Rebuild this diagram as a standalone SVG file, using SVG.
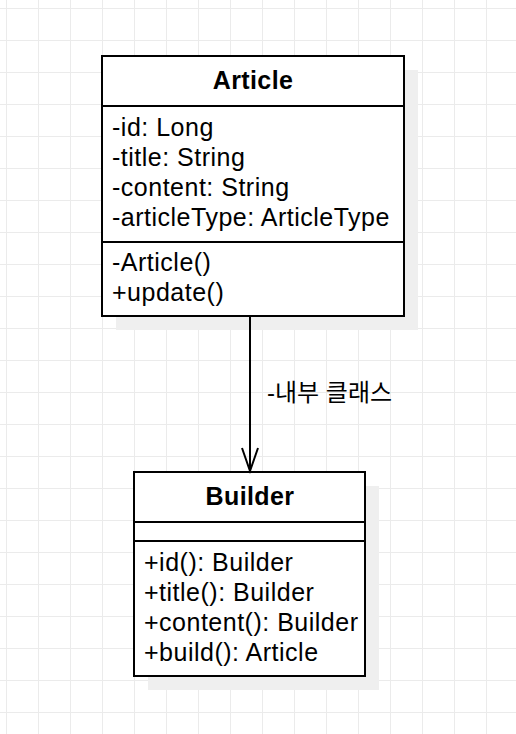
<svg xmlns="http://www.w3.org/2000/svg" width="516" height="734" viewBox="0 0 516 734">
  <defs>
    <pattern id="grid" x="6" y="8" width="32" height="32" patternUnits="userSpaceOnUse">
      <path d="M0.5 0 V32 M0 0.5 H32" fill="none" stroke="#ebebeb" stroke-width="1"/>
    </pattern>
  </defs>
  <style>
    .box { fill: #ffffff; stroke: #000000; stroke-width: 2; }
    .shadow { fill: #efefef; }
    .sep { stroke: #000000; stroke-width: 2; }
    .title { font-family: "Liberation Sans", Arial, sans-serif; font-size: 25px; font-weight: bold; text-anchor: middle; fill: #000; letter-spacing: 0.4px; }
    .member { font-family: "Liberation Sans", Arial, sans-serif; font-size: 25px; fill: #000; letter-spacing: 0.5px; }
    .label { font-family: "Liberation Sans", "Noto Sans CJK KR", sans-serif; font-size: 24px; fill: #000; }
    .conn { stroke: #000; stroke-width: 2; fill: none; }
  </style>
  <rect width="516" height="734" fill="#ffffff"/>
  <rect width="516" height="734" fill="url(#grid)"/>

  <g id="Article">
    <rect class="shadow" x="116" y="70" width="302" height="260"/>
    <rect class="box" x="102" y="56" width="302" height="260"/>
    <line class="sep" x1="102" y1="106" x2="404" y2="106"/>
    <line class="sep" x1="102" y1="242" x2="404" y2="242"/>
    <text class="title" x="253" y="89">Article</text>
    <text class="member" x="112" y="136">-id: Long</text>
    <text class="member" x="112" y="166">-title: String</text>
    <text class="member" x="112" y="196">-content: String</text>
    <text class="member" x="112" y="226">-articleType: ArticleType</text>
    <text class="member" x="112" y="271">-Article()</text>
    <text class="member" x="112" y="301">+update()</text>
  </g>

  <g id="Builder">
    <rect class="shadow" x="148" y="486" width="231" height="204"/>
    <rect class="box" x="134" y="472" width="231" height="204"/>
    <line class="sep" x1="134" y1="522" x2="365" y2="522"/>
    <line class="sep" x1="134" y1="541" x2="365" y2="541"/>
    <text class="title" x="250" y="505">Builder</text>
    <text class="member" x="144" y="571">+id(): Builder</text>
    <text class="member" x="144" y="601">+title(): Builder</text>
    <text class="member" x="144" y="631">+content(): Builder</text>
    <text class="member" x="144" y="661">+build(): Article</text>
  </g>

  <g id="connectors">
    <line class="conn" x1="250" y1="317" x2="250" y2="471"/>
    <path class="conn" d="M242 448 L250 471 L258 448"/>
    <text class="label" x="267" y="401">-내부 클래스</text>
  </g>
</svg>
